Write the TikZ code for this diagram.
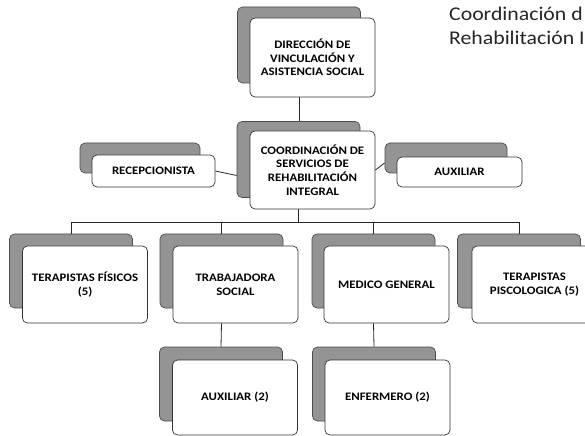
\documentclass[tikz,border=0pt]{standalone}
\usepackage{fontspec}
\setmainfont{Carlito}[FakeStretch=1.12]
\usetikzlibrary{calc}
\begin{document}
\begin{tikzpicture}[x=1bp,y=-1bp,
  back/.style={draw=black!70, fill=black!42, rounded corners=5bp, line width=0.7bp, inner sep=0pt},
  front/.style={draw=black!80, fill=white, rounded corners=5bp, line width=0.7bp, align=center, inner sep=0pt, font=\bfseries\fontsize{11.5}{13.7}\selectfont},
  big/.style={minimum width=123bp, minimum height=76bp},
  bigf/.style={minimum width=125bp, minimum height=78bp},
  conn/.style={draw=black!85, line width=0.8bp},
  ttl/.style={anchor=base west, inner sep=0pt, text=black!85, font=\fontsize{19.5}{22}\selectfont}]
\useasboundingbox (0,0) rectangle (585,436);
\fill[white] (0,0) rectangle (585,436);
\clip (0,0) rectangle (585,436);

% title
\node[ttl] (t1) at (449,21) {Coordinación d};
\node[ttl] (t2) at (449,45) {Rehabilitación I};

% level 1
\node[back, big] (dirB) at (299,45) {};
\node[front, bigf, minimum height=79bp] (dir) at (312.5,57.5) {DIRECCIÓN DE\\VINCULACIÓN Y\\ASISTENCIA SOCIAL};

% level 2
\node[back, big] (coB) at (298.5,159.5) {};
\node[front, bigf] (co) at (312.5,170) {COORDINACIÓN DE\\SERVICIOS DE\\REHABILITACIÓN\\INTEGRAL};

\node[back, minimum width=120bp, minimum height=30bp] (reB) at (140,158) {};
\node[front, minimum width=123bp, minimum height=32bp] (re) at (153.5,171) {RECEPCIONISTA};

\node[back, minimum width=122bp, minimum height=30bp] (auB) at (446,158) {};
\node[front, minimum width=125bp, minimum height=30bp] (au) at (459.5,172) {AUXILIAR};

% level 3
\node[back, big, minimum height=74bp] (tfB) at (71,271) {};
\node[front, bigf, minimum height=77bp] (tf) at (85,284.5) {TERAPISTAS FÍSICOS\\(5)};

\node[back, big, minimum height=74bp] (tsB) at (221.5,271) {};
\node[front, bigf, minimum height=77bp] (ts) at (235.5,284.5) {TRABAJADORA\\SOCIAL};

\node[back, big, minimum height=74bp] (mgB) at (373.5,271) {};
\node[front, bigf, minimum height=77bp] (mg) at (386.5,284.5) {MEDICO GENERAL};

\node[back, big, minimum height=74bp] (tpB) at (519,271) {};
\node[front, bigf, minimum height=77bp] (tp) at (534.5,284.5) {TERAPISTAS\\PISCOLOGICA (5)};

% level 4
\node[back, big, minimum height=74bp] (axB) at (221,384) {};
\node[front, bigf, minimum height=75bp] (ax) at (235,397.5) {AUXILIAR (2)};

\node[back, big, minimum height=74bp] (enB) at (374,384) {};
\node[front, bigf, minimum height=75bp] (en) at (387.5,397.5) {ENFERMERO (2)};

% connectors
\coordinate (bus) at (0,222);
\draw[conn] (dirB.south |- dir.south) -- (dirB.south |- coB.north);
\draw[conn] (re.east) -- ($(coB.west)+(0,16)$);
\draw[conn] (co.east) -- ($(auB.west)+(0,5)$);
\draw[conn] (coB.south |- co.south) -- (coB.south |- bus);
\draw[conn] (tfB.north |- bus) -- (tpB.north |- bus);
\draw[conn] (tfB.north |- bus) -- (tfB.north);
\draw[conn] (tsB.north |- bus) -- (tsB.north);
\draw[conn] (mgB.north |- bus) -- (mgB.north);
\draw[conn] (tpB.north |- bus) -- (tpB.north);
\draw[conn] (tsB.south |- ts.south) -- (axB.north);
\draw[conn] (mgB.south |- mg.south) -- (enB.north);
\end{tikzpicture}
\end{document}
